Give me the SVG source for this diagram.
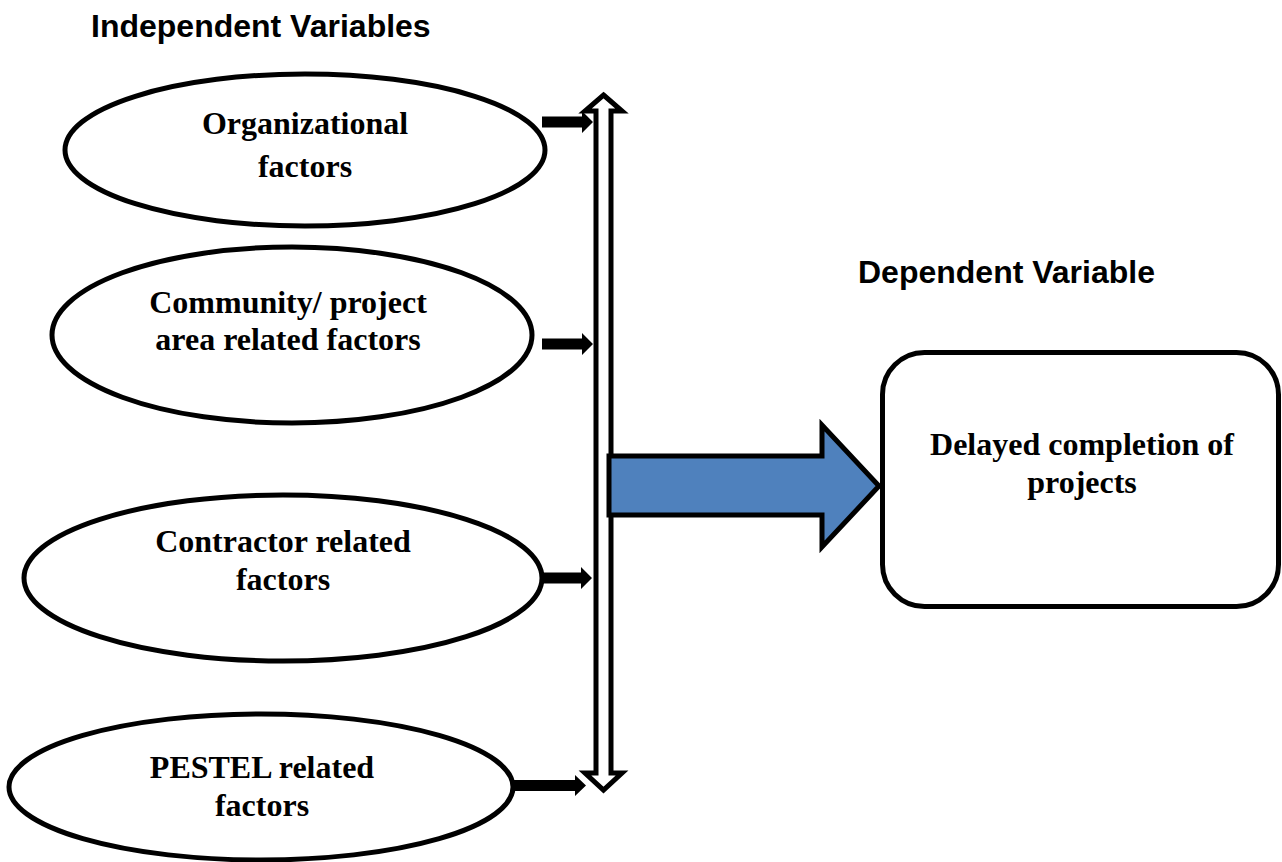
<svg xmlns="http://www.w3.org/2000/svg" width="1282" height="862" viewBox="0 0 1282 862">
  <style>
    .node { fill: #ffffff; stroke: #000000; stroke-width: 5; }
    .label { font-family: "Liberation Serif", "Times New Roman", serif; font-weight: bold; font-size: 32px; fill: #000000; text-anchor: middle; }
    .heading { font-family: "Liberation Sans", Arial, sans-serif; font-weight: bold; font-size: 32px; fill: #000000; }
    .small-arrow { fill: #000000; }
    .link { fill: #ffffff; stroke: #000000; stroke-width: 5; stroke-linejoin: miter; }
    .flow { fill: #4f81bd; stroke: #000000; stroke-width: 5; stroke-linejoin: miter; }
  </style>
  <rect width="1282" height="862" fill="#ffffff"/>

  <!-- column headings -->
  <text class="heading" x="91" y="37">Independent Variables</text>
  <text class="heading" x="858" y="283">Dependent Variable</text>

  <!-- independent variable nodes -->
  <g id="organizational">
    <ellipse class="node" cx="305" cy="150" rx="240" ry="76"/>
    <text class="label" x="305" y="134">Organizational</text>
    <text class="label" x="305" y="177">factors</text>
  </g>
  <g id="community">
    <ellipse class="node" cx="292" cy="335" rx="240" ry="88"/>
    <text class="label" x="288" y="313">Community/ project</text>
    <text class="label" x="288" y="350">area related factors</text>
  </g>
  <g id="contractor">
    <ellipse class="node" cx="283" cy="578" rx="259" ry="83"/>
    <text class="label" x="283" y="552">Contractor related</text>
    <text class="label" x="283" y="590">factors</text>
  </g>
  <g id="pestel">
    <ellipse class="node" cx="261" cy="787" rx="252" ry="73"/>
    <text class="label" x="262" y="778">PESTEL related</text>
    <text class="label" x="262" y="816">factors</text>
  </g>

  <!-- dependent variable node -->
  <g id="delayed-completion">
    <rect class="node" x="882.5" y="352.5" width="396" height="254" rx="42" ry="42"/>
    <text class="label" x="1082" y="455">Delayed completion of</text>
    <text class="label" x="1082" y="493">projects</text>
  </g>

  <!-- connectors -->
  <g id="connectors">
    <!-- small arrows into the collector bar -->
    <path class="small-arrow" d="M542,116.5 H582 V111 L593,122 L582,133 V127.5 H542 Z"/>
    <path class="small-arrow" d="M542,338.5 H582 V333 L593,344 L582,355 V349.5 H542 Z"/>
    <path class="small-arrow" d="M542,572.5 H581 V567 L592,578 L581,589 V583.5 H542 Z"/>
    <path class="small-arrow" d="M513,780 H575 V775 L586,785.5 L575,796 V791 H513 Z"/>
    <!-- vertical double-headed collector bar -->
    <path class="link" d="M603.5,95 L622,111 L611,111 L611,773 L622,773 L603.5,790 L585,773 L596,773 L596,111 L585,111 Z"/>
    <!-- block arrow to the dependent variable -->
    <path class="flow" d="M609,456 H822 V425 L879,486 L822,547 V515 H609 Z"/>
  </g>
</svg>
